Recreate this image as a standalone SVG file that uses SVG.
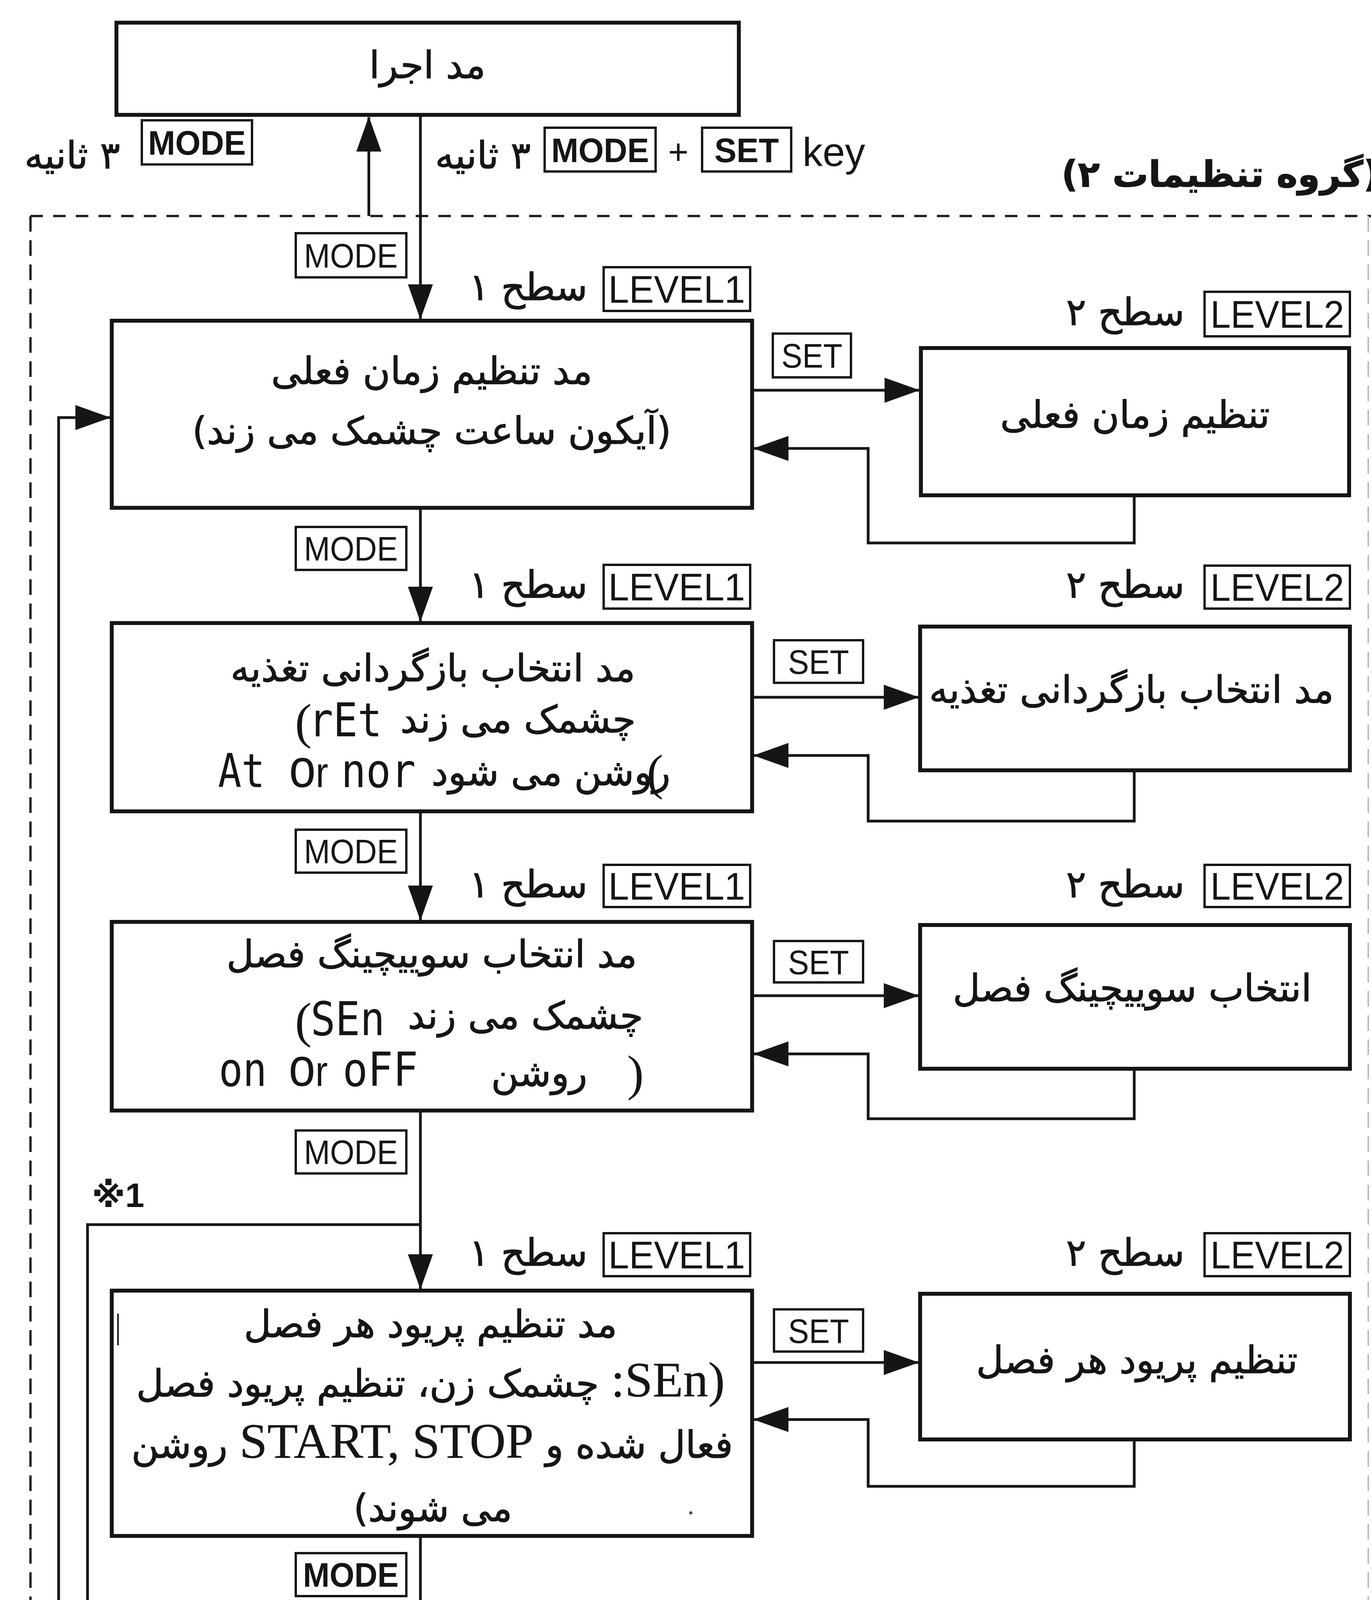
<svg xmlns="http://www.w3.org/2000/svg" width="3509" height="6424" viewBox="0 0 3509 6424">
<defs>
<style>
.box{fill:#fff;stroke:#151515;stroke-width:10}
.lbl{fill:#fff;stroke:#151515;stroke-width:6}
.ln{fill:none;stroke:#151515;stroke-width:7}
.dash{fill:none;stroke:#222;stroke-width:6}
.fa{font-family:'DejaVu Sans','Liberation Serif',sans-serif;font-size:96px;fill:#151515;stroke:#151515;stroke-width:1.5;text-anchor:middle;direction:rtl}
.lat{font-family:'Liberation Serif','DejaVu Sans',serif;font-size:128px;stroke-width:0.5}
.seg{font-family:'DejaVu Sans Mono',monospace;font-size:100px;fill:#151515}
.par{font-family:'Liberation Serif',serif;font-size:128px;fill:#151515}
.key{font-family:'Liberation Sans',sans-serif;font-size:88px;fill:#151515;text-anchor:middle}
.keyb{font-family:'Liberation Sans',sans-serif;font-size:88px;font-weight:bold;fill:#151515;text-anchor:middle}
.lev{font-family:'Liberation Sans',sans-serif;font-size:98px;fill:#151515;text-anchor:middle}
.note{font-family:'Liberation Sans','DejaVu Sans','Noto Sans CJK JP',sans-serif;font-size:88px;font-weight:bold;fill:#151515}
</style>
<marker id="ah" viewBox="0 0 90 64" refX="88" refY="32" markerWidth="90" markerHeight="64" markerUnits="userSpaceOnUse" orient="auto">
<path d="M0,0 L90,32 L0,64 z" fill="#151515"/>
</marker>
</defs>
<rect width="3509" height="6424" fill="#fff"/>

<g id="group-frame">
<path class="dash" d="M78,553 L3509,553" stroke-dasharray="32 26"/>
<path class="dash" d="M78,553 L78,6424" stroke-dasharray="40 22"/>
<path d="M3502,553 L3502,6424" fill="none" stroke="#bbb" stroke-width="4" stroke-dasharray="40 22"/>
<text class="fa" x="3124" y="478" style="font-size:92px;font-weight:bold">(گروه تنظیمات ۲)</text>
</g>

<g id="connectors">
<path class="ln" d="M944,553 L944,300" marker-end="url(#ah)"/>
<path class="ln" d="M1076,299 L1076,816" marker-end="url(#ah)"/>
<path class="ln" d="M1076,1305 L1076,1590" marker-end="url(#ah)"/>
<path class="ln" d="M1076,2082 L1076,2355" marker-end="url(#ah)"/>
<path class="ln" d="M1076,2848 L1076,3299" marker-end="url(#ah)"/>
<path class="ln" d="M1076,3937 L1076,4377" marker-end="url(#ah)"/>
<path class="ln" d="M1076,4868 L1076,5303" marker-end="url(#ah)"/>
<path class="ln" d="M1076,5944 L1076,6389 L150,6389 L150,1069 L281,1069" marker-end="url(#ah)"/>
<path class="ln" d="M1076,3135 L224,3135 L224,4174 L933,4174 L933,4377" marker-end="url(#ah)"/>
<path class="ln" d="M1076,5145 L224,5145 L224,6187 L933,6187 L933,6385" marker-end="url(#ah)"/>
<path class="ln" d="M1930,999 L2352,999" marker-end="url(#ah)"/>
<path class="ln" d="M2903,1273 L2903,1390 L2222,1390 L2222,1148 L1930,1148" marker-end="url(#ah)"/>
<path class="ln" d="M1930,1785 L2350,1785" marker-end="url(#ah)"/>
<path class="ln" d="M2903,1977 L2903,2102 L2222,2102 L2222,1934 L1930,1934" marker-end="url(#ah)"/>
<path class="ln" d="M1930,2549 L2350,2549" marker-end="url(#ah)"/>
<path class="ln" d="M2903,2741 L2903,2864 L2222,2864 L2222,2698 L1930,2698" marker-end="url(#ah)"/>
<path class="ln" d="M1930,3488 L2350,3488" marker-end="url(#ah)"/>
<path class="ln" d="M2903,3690 L2903,3805 L2222,3805 L2222,3634 L1930,3634" marker-end="url(#ah)"/>
<path class="ln" d="M1930,4569 L2350,4569" marker-end="url(#ah)"/>
<path class="ln" d="M2903,4758 L2903,4881 L2222,4881 L2222,4713 L1930,4713" marker-end="url(#ah)"/>
<path class="ln" d="M1930,5492 L2350,5492" marker-end="url(#ah)"/>
<path class="ln" d="M2903,5689 L2903,5813 L2222,5813 L2222,5643 L1930,5643" marker-end="url(#ah)"/>
</g>

<g id="labels">
<text class="fa" x="185" y="431">۳ ثانیه</text>
<rect class="lbl" x="363" y="308" width="282" height="113"/>
<text class="keyb" x="504" y="396" textLength="250" lengthAdjust="spacingAndGlyphs">MODE</text>
<text class="fa" x="1236" y="431">۳ ثانیه</text>
<rect class="lbl" x="1394" y="327" width="284" height="112"/>
<text class="keyb" x="1536" y="415" textLength="250" lengthAdjust="spacingAndGlyphs">MODE</text>
<text class="key" x="1736" y="420" style="font-size:90px">+</text>
<rect class="lbl" x="1797" y="327" width="228" height="112"/>
<text class="keyb" x="1911" y="415" textLength="165" lengthAdjust="spacingAndGlyphs">SET</text>
<text class="key" x="2054" y="425" style="font-size:103px;text-anchor:start">key</text>

<rect class="lbl" x="757" y="597" width="283" height="113"/>
<text class="key" x="898" y="685" textLength="240" lengthAdjust="spacingAndGlyphs">MODE</text>
<rect class="lbl" x="757" y="1349" width="283" height="110"/>
<text class="key" x="898" y="1435" textLength="240" lengthAdjust="spacingAndGlyphs">MODE</text>
<rect class="lbl" x="757" y="2124" width="283" height="110"/>
<text class="key" x="898" y="2210" textLength="240" lengthAdjust="spacingAndGlyphs">MODE</text>
<rect class="lbl" x="757" y="2894" width="283" height="110"/>
<text class="key" x="898" y="2980" textLength="240" lengthAdjust="spacingAndGlyphs">MODE</text>
<rect class="lbl" x="757" y="3976" width="283" height="110"/>
<text class="keyb" x="898" y="4062" textLength="245" lengthAdjust="spacingAndGlyphs">MODE</text>
<rect class="lbl" x="757" y="4911" width="283" height="110"/>
<text class="key" x="898" y="4997" textLength="240" lengthAdjust="spacingAndGlyphs">MODE</text>
<rect class="lbl" x="757" y="5986" width="283" height="112"/>
<text class="key" x="898" y="6073" textLength="240" lengthAdjust="spacingAndGlyphs">MODE</text>

<text class="note" x="235" y="3090">※1</text>
<text class="note" x="235" y="5112">※2</text>

<text class="fa" x="1352" y="768">سطح ۱</text>
<rect class="lbl" x="1545" y="684" width="375" height="112"/>
<text class="lev" x="1732" y="775" textLength="350" lengthAdjust="spacingAndGlyphs">LEVEL1</text>
<text class="fa" x="2880" y="832">سطح ۲</text>
<rect class="lbl" x="3083" y="747" width="372" height="114"/>
<text class="lev" x="3269" y="839" textLength="342" lengthAdjust="spacingAndGlyphs">LEVEL2</text>
<rect class="lbl" x="1978" y="854" width="200" height="112"/>
<text class="key" x="2078" y="941" textLength="156" lengthAdjust="spacingAndGlyphs">SET</text>

<text class="fa" x="1352" y="1530">سطح ۱</text>
<rect class="lbl" x="1545" y="1446" width="375" height="112"/>
<text class="lev" x="1732" y="1537" textLength="350" lengthAdjust="spacingAndGlyphs">LEVEL1</text>
<text class="fa" x="2880" y="1530">سطح ۲</text>
<rect class="lbl" x="3083" y="1448" width="372" height="110"/>
<text class="lev" x="3269" y="1538" textLength="342" lengthAdjust="spacingAndGlyphs">LEVEL2</text>
<rect class="lbl" x="1981" y="1639" width="228" height="109"/>
<text class="key" x="2095" y="1725" textLength="156" lengthAdjust="spacingAndGlyphs">SET</text>

<text class="fa" x="1352" y="2297">سطح ۱</text>
<rect class="lbl" x="1545" y="2214" width="375" height="108"/>
<text class="lev" x="1732" y="2303" textLength="350" lengthAdjust="spacingAndGlyphs">LEVEL1</text>
<text class="fa" x="2880" y="2297">سطح ۲</text>
<rect class="lbl" x="3083" y="2214" width="372" height="108"/>
<text class="lev" x="3269" y="2303" textLength="342" lengthAdjust="spacingAndGlyphs">LEVEL2</text>
<rect class="lbl" x="1981" y="2409" width="228" height="106"/>
<text class="key" x="2095" y="2494" textLength="156" lengthAdjust="spacingAndGlyphs">SET</text>

<text class="fa" x="1352" y="3240">سطح ۱</text>
<rect class="lbl" x="1545" y="3157" width="375" height="110"/>
<text class="lev" x="1732" y="3247" textLength="350" lengthAdjust="spacingAndGlyphs">LEVEL1</text>
<text class="fa" x="2880" y="3240">سطح ۲</text>
<rect class="lbl" x="3083" y="3157" width="372" height="110"/>
<text class="lev" x="3269" y="3247" textLength="342" lengthAdjust="spacingAndGlyphs">LEVEL2</text>
<rect class="lbl" x="1981" y="3352" width="228" height="108"/>
<text class="key" x="2095" y="3438" textLength="156" lengthAdjust="spacingAndGlyphs">SET</text>

<text class="fa" x="1352" y="4322">سطح ۱</text>
<rect class="lbl" x="1545" y="4239" width="375" height="108"/>
<text class="lev" x="1732" y="4328" textLength="350" lengthAdjust="spacingAndGlyphs">LEVEL1</text>
<text class="fa" x="2880" y="4322">سطح ۲</text>
<rect class="lbl" x="3083" y="4239" width="372" height="108"/>
<text class="lev" x="3269" y="4328" textLength="342" lengthAdjust="spacingAndGlyphs">LEVEL2</text>
<rect class="lbl" x="1981" y="4423" width="228" height="110"/>
<text class="key" x="2095" y="4510" textLength="156" lengthAdjust="spacingAndGlyphs">SET</text>

<text class="fa" x="1352" y="5245">سطح ۱</text>
<rect class="lbl" x="1545" y="5160" width="375" height="112"/>
<text class="lev" x="1732" y="5251" textLength="350" lengthAdjust="spacingAndGlyphs">LEVEL1</text>
<text class="fa" x="2880" y="5245">سطح ۲</text>
<rect class="lbl" x="3083" y="5160" width="372" height="112"/>
<text class="lev" x="3269" y="5251" textLength="342" lengthAdjust="spacingAndGlyphs">LEVEL2</text>
<rect class="lbl" x="1981" y="5346" width="228" height="112"/>
<text class="key" x="2095" y="5433" textLength="156" lengthAdjust="spacingAndGlyphs">SET</text>
</g>

<g id="node-run">
<rect class="box" x="298" y="58" width="1593" height="236"/>
<text class="fa" x="1094" y="200">مد اجرا</text>
</g>

<g id="node-r1-l1">
<rect class="box" x="286" y="821" width="1639" height="479"/>
<text class="fa" x="1105" y="983">مد تنظیم زمان فعلی</text>
<text class="fa" x="1105" y="1136">(آیکون ساعت چشمک می زند)</text>
</g>
<g id="node-r1-l2">
<rect class="box" x="2357" y="891" width="1096" height="377"/>
<text class="fa" x="2905" y="1095">تنظیم زمان فعلی</text>
</g>

<g id="node-r2-l1">
<rect class="box" x="286" y="1595" width="1639" height="482"/>
<text class="fa" x="1108" y="1744">مد انتخاب بازگردانی تغذیه</text>
<text class="par" x="755" y="1890">(</text>
<text class="seg" transform="translate(790,1885) scale(1,1.2)" textLength="188" lengthAdjust="spacingAndGlyphs">rEt</text>
<text class="fa" x="1326" y="1875">چشمک می زند</text>
<text class="seg" transform="translate(558,2015) scale(1,1.2)" textLength="120" lengthAdjust="spacingAndGlyphs">At</text>
<text class="key" x="740" y="2015" style="text-anchor:start" textLength="100" lengthAdjust="spacingAndGlyphs"><tspan style="font-size:140px">o</tspan><tspan style="font-size:110px">r</tspan></text>
<text class="seg" transform="translate(873,2015) scale(1,1.2)" textLength="191" lengthAdjust="spacingAndGlyphs">nor</text>
<text class="fa" x="1410" y="2010">روشن می شود</text>
<text class="par" x="1655" y="2020">(</text>
</g>
<g id="node-r2-l2">
<rect class="box" x="2355" y="1604" width="1100" height="368"/>
<text class="fa" x="2896" y="1799">مد انتخاب بازگردانی تغذیه</text>
</g>

<g id="node-r3-l1">
<rect class="box" x="286" y="2360" width="1639" height="483"/>
<text class="fa" x="1105" y="2476">مد انتخاب سوییچینگ فصل</text>
<text class="par" x="755" y="2655">(</text>
<text class="seg" transform="translate(795,2650) scale(1,1.2)" textLength="190" lengthAdjust="spacingAndGlyphs">SEn</text>
<text class="fa" x="1345" y="2633">چشمک می زند</text>
<text class="seg" transform="translate(560,2780) scale(1,1.2)" textLength="123" lengthAdjust="spacingAndGlyphs">on</text>
<text class="key" x="739" y="2780" style="text-anchor:start" textLength="100" lengthAdjust="spacingAndGlyphs"><tspan style="font-size:140px">o</tspan><tspan style="font-size:110px">r</tspan></text>
<text class="seg" transform="translate(877,2780) scale(1,1.2)" textLength="193" lengthAdjust="spacingAndGlyphs">oFF</text>
<text class="fa" x="1380" y="2780">روشن</text>
<text class="par" x="1605" y="2790">)</text>
</g>
<g id="node-r3-l2">
<rect class="box" x="2355" y="2368" width="1100" height="368"/>
<text class="fa" x="2898" y="2563">انتخاب سوییچینگ فصل</text>
</g>

<g id="node-r4-l1">
<rect class="box" x="286" y="3304" width="1639" height="628"/>
<path d="M302,3363 L302,3444" stroke="#151515" stroke-width="4"/>
<circle cx="1768" cy="3873" r="4" fill="#444"/>
<text class="fa" x="1102" y="3423">مد تنظیم پریود هر فصل</text>
<text class="fa" x="1102" y="3575"><tspan class="lat">(SEn:</tspan> چشمک زن، تنظیم پریود فصل</text>
<text class="fa" x="1106" y="3732">فعال شده و <tspan class="lat">START, STOP</tspan> روشن</text>
<text class="fa" x="1108" y="3894">می شوند)</text>
</g>
<g id="node-r4-l2">
<rect class="box" x="2355" y="3312" width="1100" height="373"/>
<text class="fa" x="2910" y="3515">تنظیم پریود هر فصل</text>
</g>

<g id="node-r5-l1">
<rect class="box" x="286" y="4382" width="1639" height="481"/>
<text class="fa" x="1105" y="4501">مد زمان ذخیره نور خورشید</text>
<text class="fa" x="1102" y="4653"><tspan class="lat">(dst:</tspan> چشمک زن، <tspan class="lat">At</tspan> یا <tspan class="lat">nor</tspan> روشن</text>
<text class="fa" x="1097" y="4815">می شود)</text>
</g>
<g id="node-r5-l2">
<rect class="box" x="2355" y="4380" width="1100" height="373"/>
<text class="fa" x="2904" y="4528">انتخاب زمان ذخیره نور</text>
<text class="fa" x="2905" y="4686">خورشید</text>
</g>

<g id="node-r6-l1">
<rect class="box" x="286" y="5308" width="1639" height="631"/>
<text class="fa" x="1105" y="5415">مد تنظیم پریود زخیره نور خورشید</text>
<text class="fa" x="1105" y="5574">اتوماتیک <tspan class="lat">[At]</tspan></text>
<text class="fa" x="1096" y="5728"><tspan class="lat">[dst]</tspan> چشمک می زند، <tspan class="lat">START</tspan> یا</text>
<text class="fa" x="1097" y="5887"><tspan class="lat">STOP</tspan> روشن می شود.</text>
</g>
<g id="node-r6-l2">
<rect class="box" x="2355" y="5313" width="1100" height="371"/>
<text class="fa" x="2904" y="5420">تنظیم پریود ذخیره نور</text>
<text class="fa" x="2910" y="5574">خورشید اتوماتیک</text>
</g>
</svg>
